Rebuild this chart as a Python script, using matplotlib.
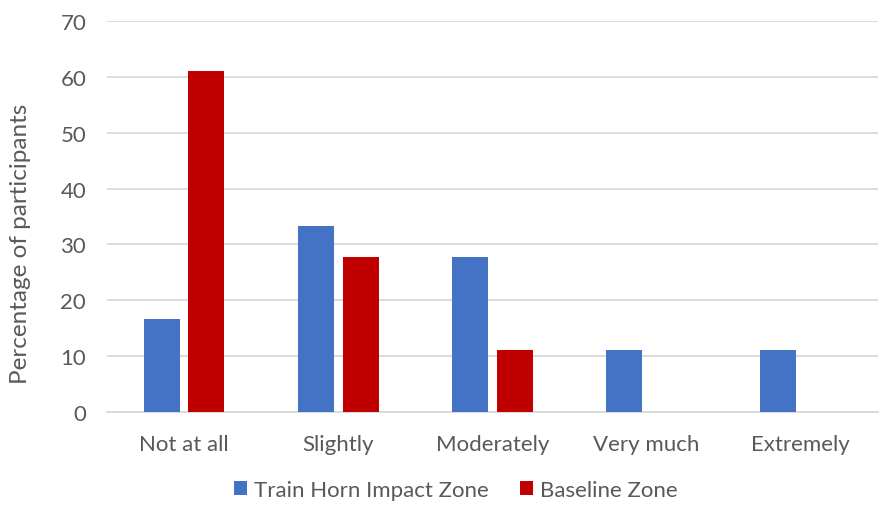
import matplotlib.pyplot as plt
import numpy as np

categories = ["Not at all", "Slightly", "Moderately", "Very much", "Extremely"]
train_horn = [16.7, 33.3, 27.8, 11.1, 11.1]
baseline = [61.1, 27.8, 11.1, 0, 0]
series_names = ["Train Horn Impact Zone", "Baseline Zone"]
yticks = [0, 10, 20, 30, 40, 50, 60, 70]

plt.rcParams['font.family'] = ['Lato', 'DejaVu Sans']
text_color = "#595959"

fig = plt.figure(figsize=(8.8, 5.06), dpi=100)
ax = fig.add_axes([0.1216, 0.1838, 0.876, 0.7727])

x = np.arange(len(categories))
w = 0.233
off = 0.145
ax.bar(x - off, train_horn, w, color="#4472C4", label=series_names[0], zorder=3)
ax.bar(x + off, baseline, w, color="#C00000", label=series_names[1], zorder=3)

ax.set_xlim(-0.5, len(categories) - 0.5)
ax.set_ylim(0, 70)
ax.set_yticks(yticks)
ax.yaxis.grid(True, color="#D9D9D9", linewidth=1.3, zorder=0)
for s in ["top", "right", "left"]:
    ax.spines[s].set_visible(False)
ax.spines["bottom"].set_color("#D9D9D9")
ax.spines["bottom"].set_linewidth(1.3)
ax.set_xticks(x)
ax.set_xticklabels(categories)
ax.tick_params(axis="both", length=0, labelsize=16, colors=text_color)
ax.tick_params(axis="x", pad=16)
ax.tick_params(axis="y", pad=15)
ax.set_ylabel("Percentage of participants", fontsize=17.5, color=text_color)
ax.yaxis.set_label_coords(-0.099, 0.432)

leg = fig.legend(loc="lower center", bbox_to_anchor=(0.518, -0.03), ncol=2, frameon=False,
                 fontsize=16, handlelength=0.6, handleheight=0.6, handletextpad=0.3,
                 columnspacing=1.4)
for t in leg.get_texts():
    t.set_color(text_color)

fig.savefig("out.png", dpi=100)
